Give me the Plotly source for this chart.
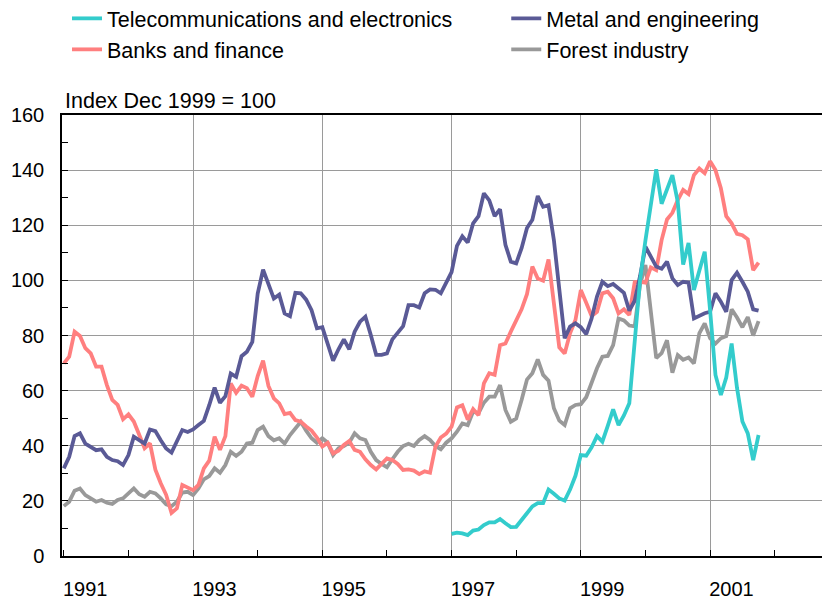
import plotly.graph_objects as go

# Monthly data, Jan 1991 .. Oct 2001 (index Dec 1999 = 100)
months = list(range(130))
years = [1991 + m / 12 for m in months]

banks = [69.9, 72.3, 81.4, 79.8, 75.4, 73.5, 68.7, 68.7, 62, 56.6, 54.8, 49.6,
         51.4, 48.8, 44, 39.1, 40.9, 31.3, 26.4, 22.2, 15.6, 17.3, 25.8, 24.8,
         23.9, 25.8, 31.8, 34.6, 43.3, 38.5, 43.5, 62.6, 59.2, 61.8, 60.9, 57.8,
         65.3, 70.9, 61.7, 57.2, 55.4, 51.5, 51.9, 49.3, 48.7, 47, 45.5, 43,
         39.7, 41.1, 37.2, 38.2, 40.3, 41.7, 38.5, 37.8, 35.1, 33, 31.4, 33.4,
         35.4, 34.8, 33.4, 31.2, 31.4, 31, 29.7, 30.7, 30.2, 39.7, 43, 44.4,
         46.9, 53.9, 54.7, 49.5, 53.3, 51.1, 62.6, 66.3, 65.7, 76.5, 77.1, 81.4,
         85.6, 89.5, 95, 105, 100.7, 99.9, 107.6, 91.7, 75.7, 73.5, 80.8, 85.6,
         96.5, 91.9, 87.1, 88.6, 95.3, 95.9, 93.5, 88, 89.5, 87.5, 99.3, 99.5,
         99.2, 104.7, 103.7, 114.6, 122.1, 124.5, 129.1, 132.8, 131.3, 138.2, 140.6, 138.9,
         143.2, 140, 133.4, 123.3, 120.7, 116.9, 116.4, 114.9, 103.7, 106.4]

metal = [31.8, 36, 43.5, 44.5, 40.8, 39.4, 38.4, 38.7, 36, 34.8, 34.4, 33,
         36.6, 43.3, 42, 40.8, 45.9, 45.3, 42, 39, 37.5, 41.5, 45.7, 45,
         45.9, 47.5, 49, 54.7, 61.1, 55.6, 58, 66.2, 65, 72.5, 74.1, 77.7,
         95.2, 103.9, 99, 93.4, 94.8, 88, 87, 95.5, 95.3, 93, 89.2, 82.6,
         83, 77, 70.9, 75, 78.6, 75, 81.4, 85, 86.8, 80.2, 73, 73,
         73.5, 78.6, 81, 83.4, 91, 91, 90.2, 95.3, 96.7, 96.6, 95.3, 98.9,
         103, 112.5, 116, 113.7, 120.7, 123.3, 131.6, 129, 123.3, 125.8, 112.9, 106.8,
         106.2, 111.7, 119, 122, 130.6, 126.7, 127.3, 114.6, 97, 79, 83.2, 84.4,
         83, 80.5, 86.2, 94.1, 99.5, 97.9, 98.7, 97.1, 95.5, 89, 92.6, 101.6,
         112.2, 108.6, 105, 104.2, 106.8, 100.7, 98.3, 99.5, 99.2, 86.2, 87.1, 88.1,
         88.6, 95.3, 92.3, 88.6, 100.1, 102.8, 99.5, 95.9, 89.5, 89]

forest = [18.1, 19.7, 23.7, 24.5, 22.1, 20.9, 19.7, 20.3, 19.3, 18.9, 20.3, 20.9,
          22.7, 24.5, 22.4, 21.5, 23.3, 22.7, 20.9, 18.7, 18.1, 19.7, 23, 23.3,
          22.1, 24.5, 27.8, 29, 31.8, 30.2, 33, 37.8, 36.3, 37.8, 40.8, 41.1,
          45.7, 46.9, 43.5, 42, 42.7, 40.8, 43.9, 46.5, 48.7, 45.5, 42.7, 41.1,
          42.7, 41.1, 36.6, 39.1, 39.9, 41.1, 44.5, 42.7, 42.1, 37.8, 34.8, 33.4,
          32.2, 35.1, 37.8, 39.9, 40.7, 39.9, 42.1, 43.5, 42.1, 39.9, 38.7, 41.1,
          42.7, 45.1, 48.1, 47.5, 52.4, 51.8, 55.6, 57.8, 57.8, 62, 53, 48.7,
          49.9, 56.6, 64, 66.3, 71.3, 65.7, 63.6, 53.6, 49.1, 47.5, 53.6, 54.8,
          55.1, 57.6, 62.9, 68.1, 72.3, 72.6, 76.5, 86.2, 85.5, 83.6, 83.3, 98.5,
          105.6, 89.8, 71.8, 73.6, 78.3, 66.5, 72.9, 71.2, 72, 69.9, 80.8, 84.4,
          79, 77.1, 79, 79.8, 89.5, 86.5, 83, 86.7, 80, 85.2]

# Telecom series starts Jan 1997 (month index 72)
telecom_start = 72
telecom = [8, 8.5, 8.2, 7.6, 9.2, 9.6, 11.2, 12.2, 12.2, 13.4, 11.9, 10.5,
           10.6, 12.8, 15.5, 18, 19.2, 19.2, 24.1, 22.6, 20.9, 20.1, 24.1, 29.1,
           36.6, 36.4, 39.4, 43.5, 41.5, 47.2, 53.2, 47.5, 51, 55.4, 79.6, 100.1,
           114.6, 127.9, 140.3, 127.8, 133.2, 138.2, 128.5, 105.7, 113.6, 96.5, 103.5, 110.4,
           89.2, 65.7, 58.4, 64.7, 77.1, 61, 48.8, 44.5, 34.8, 43.9]

tick_years = list(range(1991, 2003))
label_years = [1991, 1993, 1995, 1997, 1999, 2001]

C_TEL = "#33CCCC"
C_MET = "#5A5A96"
C_BNK = "#FF7F7F"
C_FOR = "#999999"
FONT = "Liberation Sans, Arial, sans-serif"
FS = 20
FL = 21.5
LW = 3.8

fig = go.Figure()
fig.add_trace(go.Scatter(x=years, y=forest, mode="lines", name="Forest industry",
                         line=dict(color=C_FOR, width=LW), legend="legend4"))
fig.add_trace(go.Scatter(x=years, y=banks, mode="lines", name="Banks and finance",
                         line=dict(color=C_BNK, width=LW), legend="legend3"))
fig.add_trace(go.Scatter(x=years, y=metal, mode="lines", name="Metal and engineering",
                         line=dict(color=C_MET, width=LW), legend="legend2"))
fig.add_trace(go.Scatter(x=years[telecom_start:telecom_start + len(telecom)], y=telecom,
                         mode="lines", name="Telecommunications and electronics",
                         line=dict(color=C_TEL, width=LW), legend="legend"))
# empty helper trace so the label axis (x2) is drawn
fig.add_trace(go.Scatter(x=[None], y=[None], xaxis="x2", yaxis="y", showlegend=False,
                         hoverinfo="skip"))

xr = [1990.972, 2002.84]
legend_common = dict(orientation="h", xanchor="left", yanchor="middle",
                     font=dict(family=FONT, size=FL, color="#000"),
                     bgcolor="rgba(0,0,0,0)", itemwidth=30)
col1, col2 = 0.0065, 0.5792
row1, row2 = 1.2191, 1.1488

fig.update_layout(
    width=830, height=599,
    margin=dict(l=54, r=9, t=107, b=51, autoexpand=False),
    paper_bgcolor="white", plot_bgcolor="white",
    font=dict(family=FONT, size=FS, color="#000"),
    showlegend=True,
    legend=dict(x=col1, y=row1, **legend_common),
    legend2=dict(x=col2, y=row1, **legend_common),
    legend3=dict(x=col1, y=row2, **legend_common),
    legend4=dict(x=col2, y=row2, **legend_common),
    xaxis=dict(range=xr, tickmode="array", tickvals=[1993, 1995, 1997, 1999, 2001],
               showticklabels=False, ticks="inside", ticklen=6, tickcolor="#000",
               showgrid=True, gridcolor="#9a9a9a", gridwidth=1,
               showline=True, linecolor="#000", linewidth=1.5, mirror=True,
               zeroline=False,
               minor=dict(tickmode="array", tickvals=tick_years, ticks="inside",
                          ticklen=6, tickcolor="#000", showgrid=False)),
    xaxis2=dict(range=xr, overlaying="x", side="bottom", anchor="y",
                tickmode="array", tickvals=[y + 0.33 for y in label_years],
                ticktext=[str(y) for y in label_years], ticks="",
                showgrid=False, showline=False, zeroline=False,
                ticklabelstandoff=19, tickfont=dict(family=FONT, size=FS)),
    yaxis=dict(range=[0, 160], tickmode="linear", tick0=0, dtick=20,
               ticks="inside", ticklen=6, tickcolor="#000",
               showgrid=True, gridcolor="#9a9a9a", gridwidth=1,
               showline=True, linecolor="#000", linewidth=1.5,
               zeroline=False, ticklabelstandoff=12,
               minor=dict(dtick=10, ticks="inside", ticklen=6, tickcolor="#000",
                          showgrid=False)),
    annotations=[dict(text="Index Dec 1999 = 100", xref="paper", yref="paper",
                      x=0.0014, y=1.0311, xanchor="left", yanchor="middle",
                      showarrow=False, font=dict(family=FONT, size=FL, color="#000"))],
)

fig.write_html("out.html")
